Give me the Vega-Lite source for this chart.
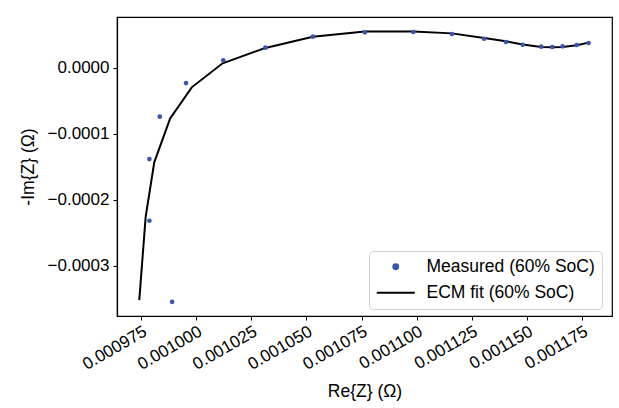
{
  "$schema": "https://vega.github.io/schema/vega-lite/v6.json",
  "width": 495,
  "height": 299,
  "autosize": "none",
  "padding": {"left": 117, "top": 17, "right": 7, "bottom": 92},
  "background": "white",
  "config": {
    "font": "Liberation Sans",
    "view": {"stroke": "black", "strokeWidth": 1.2},
    "axis": {
      "domainColor": "black", "domainWidth": 1.2, "tickColor": "black", "tickWidth": 1,
      "tickSize": 4, "labelFontSize": 17, "labelColor": "black", "titleFontSize": 17.5,
      "titleFontWeight": "normal", "titleColor": "black", "grid": false, "labelFont": "Liberation Sans", "titleFont": "Liberation Sans"
    }
  },
  "data": {
    "values": [
      {"series": "Measured (60% SoC)", "re": 0.0009891, "im": -0.0003545},
      {"series": "Measured (60% SoC)", "re": 0.0009788, "im": -0.0002318},
      {"series": "Measured (60% SoC)", "re": 0.0009788, "im": -0.0001383},
      {"series": "Measured (60% SoC)", "re": 0.0009835, "im": -0.0000742},
      {"series": "Measured (60% SoC)", "re": 0.0009954, "im": -0.0000232},
      {"series": "Measured (60% SoC)", "re": 0.0010123, "im": 0.0000112},
      {"series": "Measured (60% SoC)", "re": 0.0010314, "im": 0.0000303},
      {"series": "Measured (60% SoC)", "re": 0.0010529, "im": 0.0000470},
      {"series": "Measured (60% SoC)", "re": 0.0010765, "im": 0.0000536},
      {"series": "Measured (60% SoC)", "re": 0.0010985, "im": 0.0000541},
      {"series": "Measured (60% SoC)", "re": 0.0011160, "im": 0.0000511},
      {"series": "Measured (60% SoC)", "re": 0.0011306, "im": 0.0000439},
      {"series": "Measured (60% SoC)", "re": 0.0011405, "im": 0.0000389},
      {"series": "Measured (60% SoC)", "re": 0.0011481, "im": 0.0000348},
      {"series": "Measured (60% SoC)", "re": 0.0011565, "im": 0.0000318},
      {"series": "Measured (60% SoC)", "re": 0.0011615, "im": 0.0000314},
      {"series": "Measured (60% SoC)", "re": 0.0011662, "im": 0.0000324},
      {"series": "Measured (60% SoC)", "re": 0.0011726, "im": 0.0000344},
      {"series": "Measured (60% SoC)", "re": 0.0011780, "im": 0.0000374},
      {"series": "ECM fit (60% SoC)", "order": 1, "re": 0.0009742, "im": -0.0003520},
      {"series": "ECM fit (60% SoC)", "order": 2, "re": 0.0009771, "im": -0.0002258},
      {"series": "ECM fit (60% SoC)", "order": 3, "re": 0.0009810, "im": -0.0001433},
      {"series": "ECM fit (60% SoC)", "order": 4, "re": 0.0009882, "im": -0.0000767},
      {"series": "ECM fit (60% SoC)", "order": 5, "re": 0.0009980, "im": -0.0000297},
      {"series": "ECM fit (60% SoC)", "order": 6, "re": 0.0010120, "im": 0.0000067},
      {"series": "ECM fit (60% SoC)", "order": 7, "re": 0.0010314, "im": 0.0000300},
      {"series": "ECM fit (60% SoC)", "order": 8, "re": 0.0010529, "im": 0.0000470},
      {"series": "ECM fit (60% SoC)", "order": 9, "re": 0.0010765, "im": 0.0000550},
      {"series": "ECM fit (60% SoC)", "order": 10, "re": 0.0010985, "im": 0.0000550},
      {"series": "ECM fit (60% SoC)", "order": 11, "re": 0.0011160, "im": 0.0000520},
      {"series": "ECM fit (60% SoC)", "order": 12, "re": 0.0011306, "im": 0.0000450},
      {"series": "ECM fit (60% SoC)", "order": 13, "re": 0.0011405, "im": 0.0000400},
      {"series": "ECM fit (60% SoC)", "order": 14, "re": 0.0011481, "im": 0.0000350},
      {"series": "ECM fit (60% SoC)", "order": 15, "re": 0.0011565, "im": 0.0000315},
      {"series": "ECM fit (60% SoC)", "order": 16, "re": 0.0011615, "im": 0.0000310},
      {"series": "ECM fit (60% SoC)", "order": 17, "re": 0.0011662, "im": 0.0000315},
      {"series": "ECM fit (60% SoC)", "order": 18, "re": 0.0011726, "im": 0.0000340},
      {"series": "ECM fit (60% SoC)", "order": 19, "re": 0.0011780, "im": 0.0000380}
    ]
  },
  "encoding": {
    "x": {
      "field": "re", "type": "quantitative",
      "scale": {"domain": [0.0009641, 0.0011886], "nice": false, "zero": false},
      "axis": {
        "title": "Re{Z} (Ω)", "format": ".6f",
        "values": [0.000975, 0.001, 0.001025, 0.00105, 0.001075, 0.0011, 0.001125, 0.00115, 0.001175],
        "labelAngle": -30, "labelAlign": "right", "labelBaseline": "top", "labelPadding": 3,
        "titlePadding": 10, "labelOverlap": false
      }
    },
    "y": {
      "field": "im", "type": "quantitative",
      "scale": {"domain": [-0.000376, 0.0000768], "nice": false, "zero": false},
      "axis": {
        "title": "-Im{Z} (Ω)", "format": ".4f",
        "values": [-0.0003, -0.0002, -0.0001, 0],
        "labelPadding": 4, "titlePadding": 10
      }
    },
    "color": {
      "field": "series", "type": "nominal",
      "scale": {"domain": ["Measured (60% SoC)", "ECM fit (60% SoC)"], "range": ["#3a56a8", "#000000"]},
      "legend": {
        "title": null, "orient": "none", "legendX": 252, "legendY": 234,
        "labelFontSize": 17.5, "labelColor": "black", "labelFont": "Liberation Sans", "labelLimit": 0,
        "strokeColor": "#d0d0d0", "fillColor": "white", "cornerRadius": 4,
        "padding": 7, "rowPadding": 7, "symbolSize": 1444, "labelOffset": 22, "symbolOffset": 11,
        "symbolType": "circle",
        "encode": {
          "symbols": {
            "update": {
              "shape": {"signal": "datum.value === 'ECM fit (60% SoC)' ? 'stroke' : 'circle'"},
              "size": {"signal": "datum.value === 'ECM fit (60% SoC)' ? 1444 : 22"},
              "fill": {"signal": "datum.value === 'ECM fit (60% SoC)' ? 'transparent' : '#3a56a8'"},
              "stroke": {"signal": "datum.value === 'ECM fit (60% SoC)' ? '#000000' : 'transparent'"},
              "strokeWidth": {"value": 2.2},
              "opacity": {"value": 1}
            }
          }
        }
      }
    }
  },
  "layer": [
    {
      "transform": [{"filter": "datum.series === 'ECM fit (60% SoC)'"}],
      "mark": {"type": "line", "strokeWidth": 2, "clip": true},
      "encoding": {"order": {"field": "order", "type": "quantitative"}}
    },
    {
      "transform": [{"filter": "datum.series === 'Measured (60% SoC)'"}],
      "mark": {"type": "point", "filled": true, "size": 22, "opacity": 1, "shape": "circle"}
    }
  ]
}
